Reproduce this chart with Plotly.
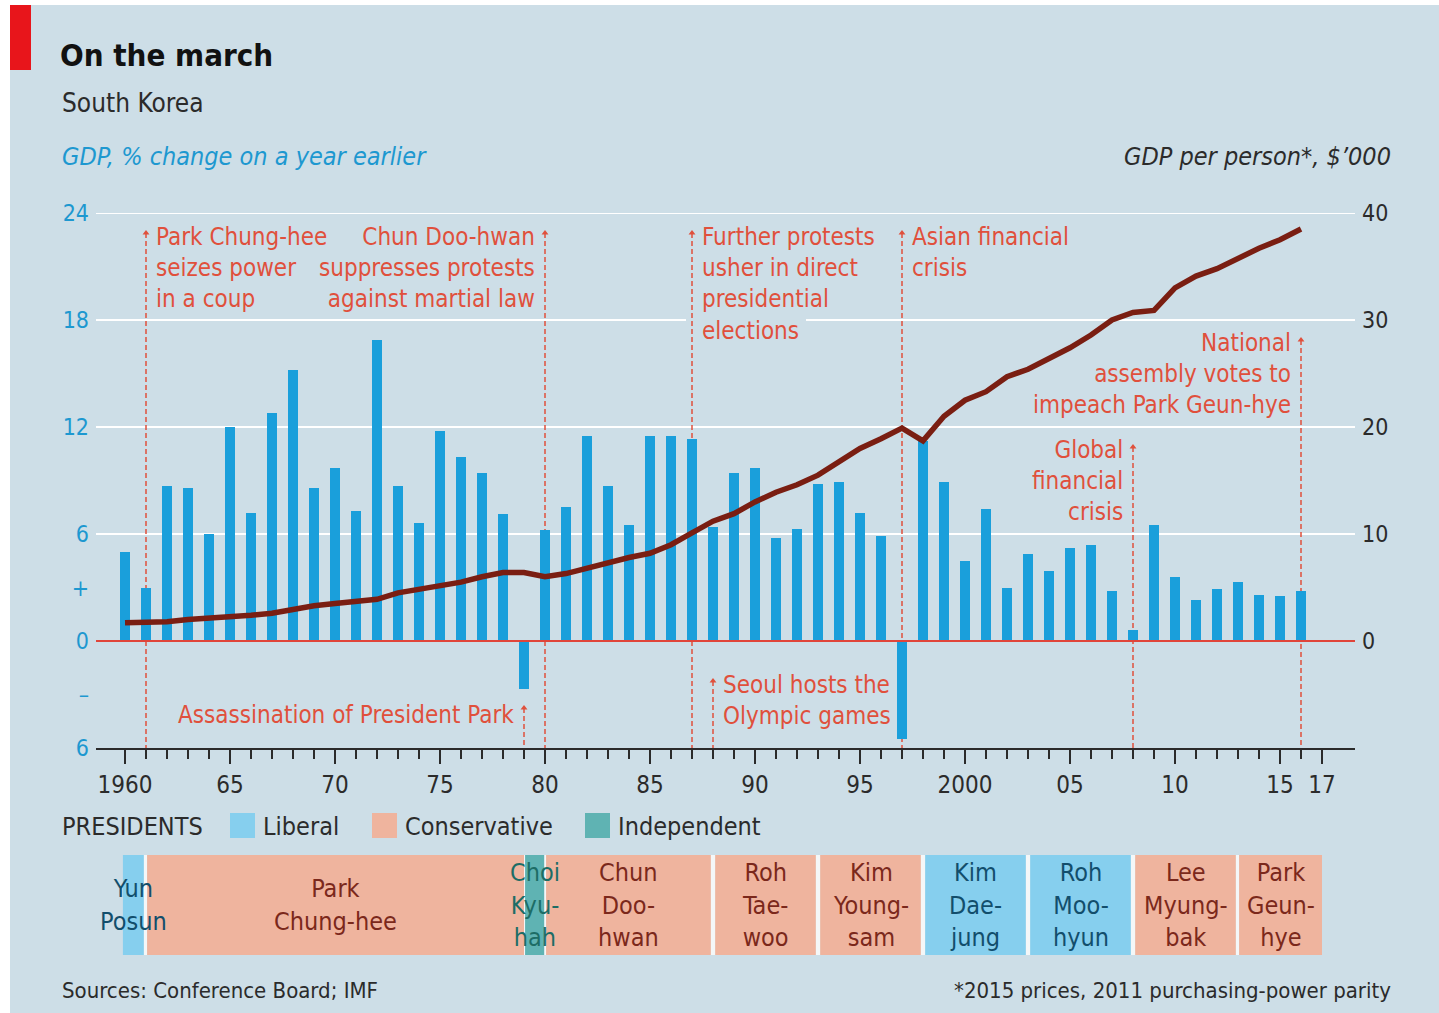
import plotly.graph_objects as go

# ---------------- data ----------------
years = list(range(1960, 2017))
gdp_growth = [5.0, 3.0, 8.7, 8.6, 6.0, 12.0, 7.2, 12.8, 15.2, 8.6,
              9.7, 7.3, 16.9, 8.7, 6.6, 11.8, 10.3, 9.4, 7.1, -2.7,
              6.2, 7.5, 11.5, 8.7, 6.5, 11.5, 11.5, 11.3, 6.4, 9.4,
              9.7, 5.8, 6.3, 8.8, 8.9, 7.2, 5.9, -5.5, 11.2, 8.9,
              4.5, 7.4, 3.0, 4.9, 3.9, 5.2, 5.4, 2.8, 0.6, 6.5,
              3.6, 2.3, 2.9, 3.3, 2.6, 2.5, 2.8]
gdp_per_person = [1.7, 1.7, 1.8, 2.0, 2.1, 2.2, 2.4, 2.6, 3.0, 3.3,
                  3.5, 3.7, 3.9, 4.5, 4.8, 5.1, 5.5, 6.0, 6.4, 6.4,
                  6.0, 6.3, 6.8, 7.4, 7.8, 8.2, 9.0, 10.1, 11.2, 11.9,
                  13.0, 13.9, 14.6, 15.5, 16.8, 18.0, 18.9, 19.9, 18.7, 21.0,
                  22.5, 23.3, 24.7, 25.4, 26.4, 27.4, 28.6, 30.0, 30.7, 30.9,
                  33.0, 34.1, 34.8, 35.8, 36.7, 37.5, 38.5]

x_tick_vals = [1960, 1965, 1970, 1975, 1980, 1985, 1990, 1995, 2000, 2005, 2010, 2015, 2017]
x_tick_text = ["1960", "65", "70", "75", "80", "85", "90", "95", "2000", "05", "10", "15", "17"]
left_tick_vals = [24, 18, 12, 6, 3, 0, -3, -6]
left_tick_text = ["24", "18", "12", "6", "+", "0", "–", "6"]
right_tick_vals = [0, 10, 20, 30, 40]
right_tick_text = ["0", "10", "20", "30", "40"]
grid_vals = [6, 12, 18, 24]

event_years = [1961, 1980, 1987, 1997, 2016, 2008, 1979, 1988]
event_texts = ["Park Chung-hee<br>seizes power<br>in a coup",
               "Chun Doo-hwan<br>suppresses protests<br>against martial law",
               "Further protests<br>usher in direct<br>presidential<br>elections",
               "Asian financial<br>crisis",
               "National<br>assembly votes to<br>impeach Park Geun-hye",
               "Global<br>financial<br>crisis",
               "Assassination of President Park",
               "Seoul hosts the<br>Olympic games"]

pres_names = ["Yun<br>Posun", "Park<br>Chung-hee", "Choi<br>Kyu-<br>hah", "Chun<br>Doo-<br>hwan",
              "Roh<br>Tae-<br>woo", "Kim<br>Young-<br>sam", "Kim<br>Dae-<br>jung", "Roh<br>Moo-<br>hyun",
              "Lee<br>Myung-<br>bak", "Park<br>Geun-<br>hye"]
pres_party = ["Liberal", "Conservative", "Independent", "Conservative", "Conservative",
              "Conservative", "Liberal", "Liberal", "Conservative", "Conservative"]
pres_start = [1959.9, 1961.05, 1979.05, 1980.05, 1988.1, 1993.1, 1998.1, 2003.1, 2008.1, 2013.05]
pres_end = [1960.9, 1979.0, 1979.97, 1987.9, 1992.9, 1997.9, 2002.9, 2007.9, 2012.9, 2017.0]

# ---------------- styles / geometry ----------------
W, H = 1439, 1013
BG = "#cddee7"
BAR = "#1a9fdb"
LINE = "#7a1e12"
RED = "#e0503c"
BLUE_TXT = "#1d98d0"
DARK = "#2b2b2b"
FONT = "DejaVu Sans Condensed, Liberation Sans Narrow, Arial Narrow, sans-serif"
party_fill = {"Liberal": "#86cfee", "Conservative": "#efb49e", "Independent": "#5fb3b3"}
party_text = {"Liberal": "#124e6c", "Conservative": "#7b281b", "Independent": "#1d6d66"}

PX0, PX1 = 96, 1355          # plot area horizontal pixels
PY_TOP, PY_BOT = 213, 748    # plot area vertical pixels (24 and -6)
YEAR_PX = 21.0
X0 = 1960 - (125 - PX0) / YEAR_PX
X1 = X0 + (PX1 - PX0) / YEAR_PX


def px(xp):
    return xp / W


def py(yp):
    return 1 - yp / H


def ly(yp):  # pixel -> left axis units
    return (641 - yp) / ((PY_BOT - PY_TOP) / 30.0)


def lx(xp):  # pixel -> x axis units
    return X0 + (xp - PX0) / YEAR_PX


fig = go.Figure()

fig.add_trace(go.Bar(x=years, y=gdp_growth, marker=dict(color=BAR, line=dict(width=0)),
                     width=0.5, yaxis="y", showlegend=False, hoverinfo="skip"))
fig.add_trace(go.Scatter(x=years, y=gdp_per_person, yaxis="y2", mode="lines",
                         line=dict(color=LINE, width=5.5), showlegend=False, hoverinfo="skip"))

shapes = []
annotations = []

# background panel
shapes.append(dict(type="rect", xref="paper", yref="paper", x0=px(10), x1=1, y0=0, y1=py(5),
                   fillcolor=BG, line=dict(width=0), layer="below"))
shapes.append(dict(type="rect", xref="paper", yref="paper", x0=px(10), x1=px(31), y0=py(70), y1=py(5),
                   fillcolor="#e8151b", line=dict(width=0), layer="below"))

# gridlines
for g in grid_vals:
    shapes.append(dict(type="line", xref="x domain", yref="y", x0=0, x1=1, y0=g, y1=g,
                       line=dict(color="white", width=2), layer="below"))
# gridline knocked out behind the word "elections"
shapes.append(dict(type="rect", xref="x", yref="y", x0=lx(686), x1=lx(806), y0=17.7, y1=18.3,
                   fillcolor=BG, line=dict(width=0), layer="below"))

# event layout: (side, text top px, arrow tip px)
event_layout = [("left", 221, 233), ("right", 221, 233), ("left", 221, 233), ("left", 221, 233),
                ("right", 327, 340), ("right", 434, 447), ("right", 699, 708), ("left", 669, 681)]
arrow_x, arrow_y = [], []
for yr, txt, (side, ttop, atip) in zip(event_years, event_texts, event_layout):
    shapes.append(dict(type="line", xref="x", yref="y", x0=yr, x1=yr, y0=ly(atip), y1=-6,
                       line=dict(color=RED, width=1.5, dash="5px,3px"), layer="below"))
    arrow_x.append(yr)
    arrow_y.append(ly(atip))
    annotations.append(dict(x=yr, y=ly(ttop), xref="x", yref="y", text=txt, showarrow=False,
                            xanchor="left" if side == "left" else "right", yanchor="top",
                            xshift=8 if side == "left" else -8,
                            align=side, font=dict(family=FONT, size=24, color=RED)))

fig.add_trace(go.Scatter(x=arrow_x, y=arrow_y, yaxis="y", mode="markers",
                         marker=dict(symbol="triangle-up", size=6, color=RED),
                         showlegend=False, hoverinfo="skip"))

# zero line
shapes.append(dict(type="line", xref="x domain", yref="y", x0=0, x1=1, y0=0, y1=0,
                   line=dict(color="#e0453a", width=2), layer="above"))

# presidents band
band_top, band_bot = py(855), py(955)
for name, party, s, e in zip(pres_names, pres_party, pres_start, pres_end):
    shapes.append(dict(type="rect", xref="x", yref="paper", x0=s, x1=e, y0=band_bot, y1=band_top,
                       fillcolor=party_fill[party], line=dict(width=0), layer="above"))
    annotations.append(dict(x=(s + e) / 2, y=(band_top + band_bot) / 2, xref="x", yref="paper",
                            text=name, showarrow=False, xanchor="center", yanchor="middle",
                            align="center", font=dict(family=FONT, size=25, color=party_text[party])))
# white separators between adjacent terms
for e, s in zip(pres_end[:-1], pres_start[1:]):
    shapes.append(dict(type="rect", xref="x", yref="paper", x0=e, x1=s, y0=band_bot, y1=band_top,
                       fillcolor="#f4f7f8", line=dict(width=0), layer="above"))

# legend row
annotations.append(dict(x=px(60), y=py(826), xref="paper", yref="paper", text="PRESIDENTS",
                        showarrow=False, xanchor="left", yanchor="middle",
                        font=dict(family=FONT, size=25, color=DARK)))
legend_items = [("Liberal", 230), ("Conservative", 372), ("Independent", 585)]
for lab, xp in legend_items:
    shapes.append(dict(type="rect", xref="paper", yref="paper", x0=px(xp), x1=px(xp + 25),
                       y0=py(838), y1=py(813), fillcolor=party_fill[lab], line=dict(width=0)))
    annotations.append(dict(x=px(xp + 31), y=py(826), xref="paper", yref="paper", text=lab,
                            showarrow=False, xanchor="left", yanchor="middle",
                            font=dict(family=FONT, size=25, color=DARK)))

# titles
annotations += [
    dict(x=px(58), y=py(55), xref="paper", yref="paper", text="<b>On the march</b>", showarrow=False,
         xanchor="left", yanchor="middle", font=dict(family=FONT, size=31, color="#111")),
    dict(x=px(60), y=py(103), xref="paper", yref="paper", text="South Korea", showarrow=False,
         xanchor="left", yanchor="middle", font=dict(family=FONT, size=26, color=DARK)),
    dict(x=px(60), y=py(157), xref="paper", yref="paper", text="<i>GDP, % change on a year earlier</i>",
         showarrow=False, xanchor="left", yanchor="middle", font=dict(family=FONT, size=25, color=BLUE_TXT)),
    dict(x=px(1393), y=py(157), xref="paper", yref="paper", text="<i>GDP per person*, $’000</i>",
         showarrow=False, xanchor="right", yanchor="middle", font=dict(family=FONT, size=25, color=DARK)),
    dict(x=px(60), y=py(990), xref="paper", yref="paper", text="Sources: Conference Board; IMF",
         showarrow=False, xanchor="left", yanchor="middle", font=dict(family=FONT, size=22, color=DARK)),
    dict(x=px(1393), y=py(990), xref="paper", yref="paper", text="*2015 prices, 2011 purchasing-power parity",
         showarrow=False, xanchor="right", yanchor="middle", font=dict(family=FONT, size=22, color=DARK)),
]

fig.update_layout(
    width=W, height=H, autosize=False, margin=dict(l=0, r=0, t=0, b=0, autoexpand=False),
    paper_bgcolor="white", plot_bgcolor="rgba(0,0,0,0)",
    showlegend=False, bargap=0,
    shapes=shapes, annotations=annotations,
    xaxis=dict(range=[X0, X1], domain=[px(PX0), px(PX1)], anchor="y",
               tickmode="array", tickvals=x_tick_vals, ticktext=x_tick_text,
               ticks="outside", ticklen=14, tickwidth=2, tickcolor=DARK,
               showline=True, linecolor=DARK, linewidth=2, showgrid=False, zeroline=False,
               tickfont=dict(family=FONT, size=24, color=DARK), automargin=False,
               minor=dict(tickvals=years, ticks="outside", ticklen=9, tickwidth=1.5,
                          tickcolor=DARK, showgrid=False)),
    yaxis=dict(range=[-6, 24], domain=[py(PY_BOT), py(PY_TOP)], tickmode="array",
               tickvals=left_tick_vals, ticktext=left_tick_text, showgrid=False, zeroline=False,
               showline=False, ticks="", automargin=False, ticklabelstandoff=6,
               tickfont=dict(family=FONT, size=23, color=BLUE_TXT)),
    yaxis2=dict(range=[-10, 40], overlaying="y", side="right", anchor="x", tickmode="array",
                tickvals=right_tick_vals, ticktext=right_tick_text, showgrid=False, zeroline=False,
                showline=False, ticks="", automargin=False, ticklabelstandoff=6,
                tickfont=dict(family=FONT, size=23, color=DARK)),
)

fig.write_html("out.html", config={"responsive": False, "displayModeBar": False},
               post_script="document.body.style.margin='0';document.body.style.overflow='hidden';")
